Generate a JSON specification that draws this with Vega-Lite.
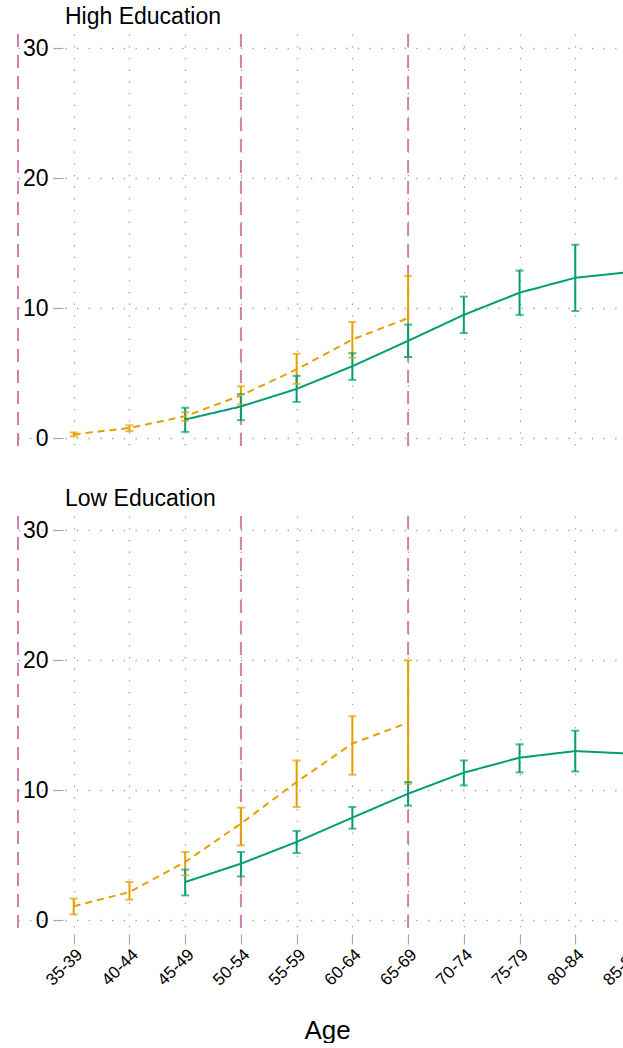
{
  "$schema": "https://vega.github.io/schema/vega-lite/v6.json",
  "background": "white",
  "padding": {"left": 17, "top": 6, "right": 0, "bottom": 0},
  "spacing": 35,
  "datasets": {
    "high": [
      {"series": "Series 1", "age": "35-39", "est": 0.3, "lo": 0.15, "hi": 0.45},
      {"series": "Series 1", "age": "40-44", "est": 0.8, "lo": 0.55, "hi": 1.0},
      {"series": "Series 1", "age": "45-49", "est": 1.7, "lo": 1.35, "hi": 2.0},
      {"series": "Series 1", "age": "50-54", "est": 3.3, "lo": 2.6, "hi": 4.0},
      {"series": "Series 1", "age": "55-59", "est": 5.3, "lo": 4.2, "hi": 6.5},
      {"series": "Series 1", "age": "60-64", "est": 7.6, "lo": 6.2, "hi": 8.95},
      {"series": "Series 1", "age": "65-69", "est": 9.25, "lo": 6.25, "hi": 12.5},
      {"series": "Series 2", "age": "45-49", "est": 1.45, "lo": 0.5, "hi": 2.35},
      {"series": "Series 2", "age": "50-54", "est": 2.45, "lo": 1.4, "hi": 3.4},
      {"series": "Series 2", "age": "55-59", "est": 3.8, "lo": 2.8, "hi": 4.8},
      {"series": "Series 2", "age": "60-64", "est": 5.55, "lo": 4.5, "hi": 6.55},
      {"series": "Series 2", "age": "65-69", "est": 7.5, "lo": 6.25, "hi": 8.75},
      {"series": "Series 2", "age": "70-74", "est": 9.5, "lo": 8.1, "hi": 10.9},
      {"series": "Series 2", "age": "75-79", "est": 11.2, "lo": 9.5, "hi": 12.9},
      {"series": "Series 2", "age": "80-84", "est": 12.35, "lo": 9.8, "hi": 14.9},
      {"series": "Series 2", "age": "85-89", "est": 12.8, "lo": 10.0, "hi": 15.5}
    ],
    "low": [
      {"series": "Series 1", "age": "35-39", "est": 1.08, "lo": 0.46, "hi": 1.67},
      {"series": "Series 1", "age": "40-44", "est": 2.18, "lo": 1.59, "hi": 2.95},
      {"series": "Series 1", "age": "45-49", "est": 4.49, "lo": 3.46, "hi": 5.26},
      {"series": "Series 1", "age": "50-54", "est": 7.44, "lo": 5.77, "hi": 8.67},
      {"series": "Series 1", "age": "55-59", "est": 10.64, "lo": 8.72, "hi": 12.3},
      {"series": "Series 1", "age": "60-64", "est": 13.6, "lo": 11.2, "hi": 15.7},
      {"series": "Series 1", "age": "65-69", "est": 15.2, "lo": 10.5, "hi": 20.0},
      {"series": "Series 2", "age": "45-49", "est": 2.95, "lo": 1.92, "hi": 3.9},
      {"series": "Series 2", "age": "50-54", "est": 4.36, "lo": 3.38, "hi": 5.26},
      {"series": "Series 2", "age": "55-59", "est": 6.03, "lo": 5.18, "hi": 6.87},
      {"series": "Series 2", "age": "60-64", "est": 7.9, "lo": 7.05, "hi": 8.72},
      {"series": "Series 2", "age": "65-69", "est": 9.74, "lo": 8.82, "hi": 10.64},
      {"series": "Series 2", "age": "70-74", "est": 11.36, "lo": 10.38, "hi": 12.3},
      {"series": "Series 2", "age": "75-79", "est": 12.51, "lo": 11.38, "hi": 13.54},
      {"series": "Series 2", "age": "80-84", "est": 13.02, "lo": 11.44, "hi": 14.59},
      {"series": "Series 2", "age": "85-89", "est": 12.82, "lo": 11.2, "hi": 14.5}
    ],
    "vlines": [
      {"age": "30-34"},
      {"age": "50-54"},
      {"age": "65-69"}
    ]
  },
  "vconcat": [
    {
      "width": 560,
      "height": 418,
      "title": {"text": "High Education", "anchor": "start", "frame": "group", "dx": 2, "offset": 4},
      "layer": [
        {
          "data": {"name": "vlines"},
          "mark": {"type": "rule", "color": "#D17FB0", "strokeWidth": 2, "strokeDash": [13, 8]},
          "encoding": {
            "x": {"field": "age", "type": "ordinal", "scale": {"type": "point", "domain": ["30-34","35-39","40-44","45-49","50-54","55-59","60-64","65-69","70-74","75-79","80-84","85-89"], "range": [-45, 568], "padding": 0},
              "axis": {"values": ["35-39","40-44","45-49","50-54","55-59","60-64","65-69","70-74","75-79","80-84","85-89"], "labels": false, "ticks": false, "title": null, "grid": true}}
          }
        },
        {
          "data": {"name": "high"},
          "mark": {"type": "rule", "strokeWidth": 2, "clip": true},
          "encoding": {
            "x": {"field": "age", "type": "ordinal"},
            "y": {"field": "lo", "type": "quantitative", "scale": {"domain": [-1.05, 31.1], "nice": false, "zero": false}, "axis": {"values": [0, 10, 20, 30], "title": null}},
            "y2": {"field": "hi"},
            "color": {"field": "series", "type": "nominal", "scale": {"domain": ["Series 1", "Series 2"], "range": ["#E69F00", "#009E73"]}, "legend": null}
          }
        },
        {
          "data": {"name": "high"},
          "mark": {"type": "tick", "thickness": 2, "size": 8, "clip": true},
          "encoding": {
            "x": {"field": "age", "type": "ordinal"},
            "y": {"field": "lo", "type": "quantitative"},
            "color": {"field": "series", "type": "nominal", "legend": null}
          }
        },
        {
          "data": {"name": "high"},
          "mark": {"type": "tick", "thickness": 2, "size": 8, "clip": true},
          "encoding": {
            "x": {"field": "age", "type": "ordinal"},
            "y": {"field": "hi", "type": "quantitative"},
            "color": {"field": "series", "type": "nominal", "legend": null}
          }
        },
        {
          "data": {"name": "high"},
          "mark": {"type": "line", "strokeWidth": 2, "clip": true},
          "encoding": {
            "x": {"field": "age", "type": "ordinal"},
            "y": {"field": "est", "type": "quantitative"},
            "color": {"field": "series", "type": "nominal", "legend": null},
            "strokeDash": {"field": "series", "type": "nominal", "scale": {"domain": ["Series 1", "Series 2"], "range": [[7, 5], [1, 0]]}, "legend": null}
          }
        }
      ]
    },
    {
      "width": 560,
      "height": 418,
      "title": {"text": "Low Education", "anchor": "start", "frame": "group", "dx": 2, "offset": 4},
      "layer": [
        {
          "data": {"name": "vlines"},
          "mark": {"type": "rule", "color": "#D17FB0", "strokeWidth": 2, "strokeDash": [13, 8]},
          "encoding": {
            "x": {"field": "age", "type": "ordinal", "scale": {"type": "point", "domain": ["30-34","35-39","40-44","45-49","50-54","55-59","60-64","65-69","70-74","75-79","80-84","85-89"], "range": [-45, 568], "padding": 0},
              "axis": {"values": ["35-39","40-44","45-49","50-54","55-59","60-64","65-69","70-74","75-79","80-84","85-89"], "labelAngle": -45, "labelFontSize": 17, "tickSize": 10, "title": "Age", "titleFontSize": 26, "titleFontWeight": "normal", "titleBaseline": "alphabetic", "titleX": 264, "titleY": 104, "grid": true}}
          }
        },
        {
          "data": {"name": "low"},
          "mark": {"type": "rule", "strokeWidth": 2, "clip": true},
          "encoding": {
            "x": {"field": "age", "type": "ordinal"},
            "y": {"field": "lo", "type": "quantitative", "scale": {"domain": [-1.05, 31.1], "nice": false, "zero": false}, "axis": {"values": [0, 10, 20, 30], "title": null}},
            "y2": {"field": "hi"},
            "color": {"field": "series", "type": "nominal", "scale": {"domain": ["Series 1", "Series 2"], "range": ["#E69F00", "#009E73"]}, "legend": null}
          }
        },
        {
          "data": {"name": "low"},
          "mark": {"type": "tick", "thickness": 2, "size": 8, "clip": true},
          "encoding": {
            "x": {"field": "age", "type": "ordinal"},
            "y": {"field": "lo", "type": "quantitative"},
            "color": {"field": "series", "type": "nominal", "legend": null}
          }
        },
        {
          "data": {"name": "low"},
          "mark": {"type": "tick", "thickness": 2, "size": 8, "clip": true},
          "encoding": {
            "x": {"field": "age", "type": "ordinal"},
            "y": {"field": "hi", "type": "quantitative"},
            "color": {"field": "series", "type": "nominal", "legend": null}
          }
        },
        {
          "data": {"name": "low"},
          "mark": {"type": "line", "strokeWidth": 2, "clip": true},
          "encoding": {
            "x": {"field": "age", "type": "ordinal"},
            "y": {"field": "est", "type": "quantitative"},
            "color": {"field": "series", "type": "nominal", "legend": null},
            "strokeDash": {"field": "series", "type": "nominal", "scale": {"domain": ["Series 1", "Series 2"], "range": [[7, 5], [1, 0]]}, "legend": null}
          }
        }
      ]
    }
  ],
  "config": {
    "font": "Liberation Sans",
    "view": {"stroke": null},
    "title": {"fontSize": 23, "fontWeight": "normal", "color": "black", "font": "Liberation Sans"},
    "axis": {
      "domain": false,
      "tickColor": "#a8a8a8",
      "tickWidth": 1.2,
      "tickSize": 10,
      "gridColor": "#a0a0a0",
      "gridWidth": 1.3,
      "gridDash": [1.3, 10.4],
      "labelColor": "black",
      "labelFont": "Liberation Sans",
      "titleFont": "Liberation Sans",
      "titleColor": "black"
    },
    "axisY": {"labelFontSize": 23, "labelPadding": 5}
  }
}
